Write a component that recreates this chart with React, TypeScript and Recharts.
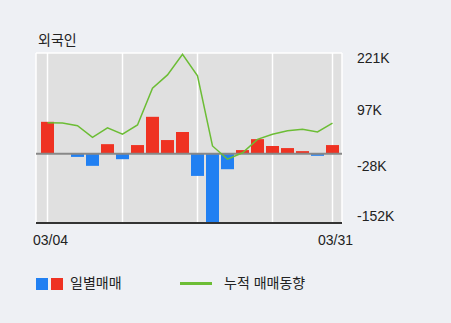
import React from 'react';
import { ComposedChart, Bar, Line, XAxis, YAxis, CartesianGrid, ReferenceLine, Cell } from 'recharts';

const dates = ['03/04','03/05','03/06','03/09','03/10','03/11','03/12','03/13','03/16','03/17','03/18','03/19','03/20','03/23','03/24','03/25','03/26','03/27','03/30','03/31'];
const daily = [70, 0, -7, -26.6, 21, -12, 19, 81, 30, 47.7, -48.7, -150, -34, 8, 32, 17, 12.4, 5.7, -4.6, 19];
const cumulative = [68, 67.5, 61.6, 36, 57, 43, 63, 144, 173, 218, 171, 17, -12, 2, 31.5, 42.6, 50.5, 53.6, 47.7, 67];
const xTicks = ['03/04','03/11','03/18','03/25','03/31'];
const xLabelShown = ['03/04','03/31'];
const yTicks = [221, 97, -28, -152];
const yTickLabels = ['221K', '97K', '-28K', '-152K'];
const yLabelShift = [5, 0.5, 0, -7.5];

const data = dates.map((d, i) => ({ date: d, daily: daily[i], cum: cumulative[i] }));

const RED = '#ef3222';
const BLUE = '#2180f2';
const GREEN = '#6cbd35';
const FONT = '"Liberation Sans", Arial, "Noto Sans CJK KR", sans-serif';

const XTick = (props: any) => {
  const { x, y, payload } = props;
  if (!xLabelShown.includes(payload.value)) return null;
  return (
    <text x={x + 3} y={y} dy={14} textAnchor="middle" fontSize={14} fill="#222" fontFamily={FONT}>
      {payload.value}
    </text>
  );
};

const YTick = (props: any) => {
  const { x, y, payload } = props;
  const i = yTicks.indexOf(payload.value);
  return (
    <text x={x} y={y + (i >= 0 ? yLabelShift[i] : 0)} dy={5} textAnchor="start" fontSize={14} fill="#222" fontFamily={FONT}>
      {i >= 0 ? yTickLabels[i] : payload.value}
    </text>
  );
};

export default function App() {
  return (
    <div style={{ position: 'fixed', left: 0, top: 0, width: 451, height: 323, background: '#eef0f4', fontFamily: FONT }}>
      <div style={{ position: 'absolute', left: 38, top: 29, fontSize: 14, color: '#222' }}>외국인</div>
      <ComposedChart width={451} height={323} data={data} margin={{ top: 53, right: 0, left: 36, bottom: 70 }}>
        <CartesianGrid stroke="#ffffff" strokeWidth={1.5} fill="#e0e0e0" />
        <XAxis
          dataKey="date"
          ticks={xTicks}
          interval={0}
          tick={<XTick />}
          tickLine={false}
          axisLine={{ stroke: '#333', strokeWidth: 2 }}
          padding={{ left: 4, right: 2 }}
          height={30}
        />
        <YAxis
          yAxisId="r"
          orientation="right"
          domain={[-152, 221]}
          ticks={yTicks}
          tick={<YTick />}
          tickLine={false}
          axisLine={false}
          tickMargin={9}
          width={109}
          allowDataOverflow
        />
        <YAxis yAxisId="l" orientation="left" width={0} tick={false} tickLine={false} axisLine={{ stroke: '#333', strokeWidth: 2 }} />
        <ReferenceLine yAxisId="r" y={0} stroke="#888" strokeWidth={2} />
        <Bar yAxisId="r" dataKey="daily" barSize={13} isAnimationActive={false}>
          {data.map((d, i) => (
            <Cell key={i} fill={d.daily >= 0 ? RED : BLUE} />
          ))}
        </Bar>
        <Line yAxisId="r" dataKey="cum" type="linear" stroke={GREEN} strokeWidth={1.5} dot={false} isAnimationActive={false} />
      </ComposedChart>
      <div style={{ position: 'absolute', left: 36, top: 278, width: 12, height: 12, background: BLUE }} />
      <div style={{ position: 'absolute', left: 51, top: 278, width: 12, height: 12, background: RED }} />
      <div style={{ position: 'absolute', left: 70, top: 272, fontSize: 14, color: '#222' }}>일별매매</div>
      <div style={{ position: 'absolute', left: 180, top: 282, width: 32, height: 3, background: GREEN }} />
      <div style={{ position: 'absolute', left: 224, top: 272, fontSize: 14, color: '#222' }}>누적 매매동향</div>
    </div>
  );
}
